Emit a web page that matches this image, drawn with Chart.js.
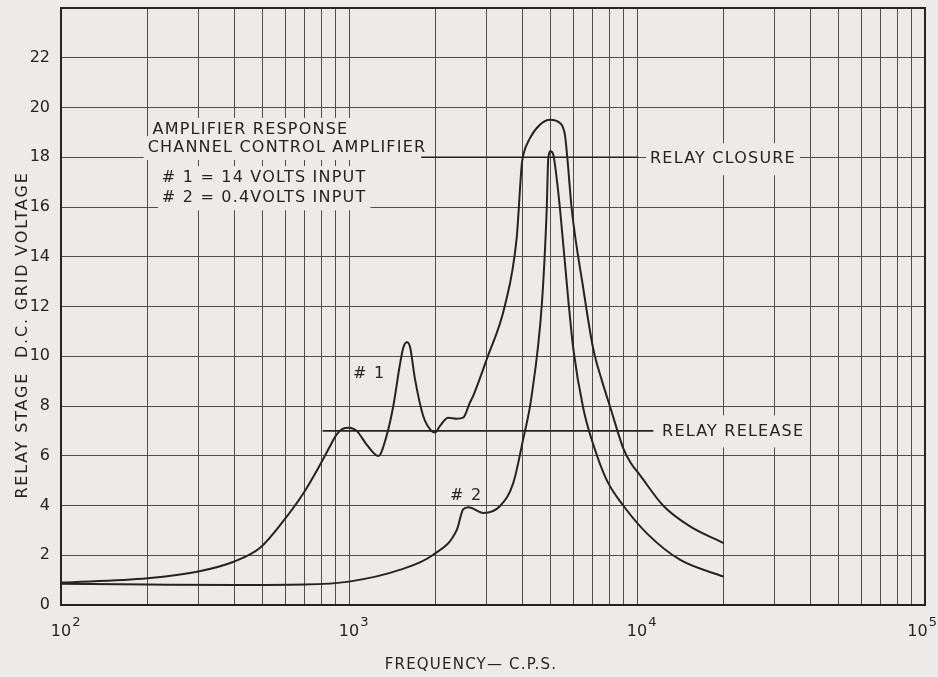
<!DOCTYPE html>
<html>
<head>
<meta charset="utf-8">
<script src="https://cdn.jsdelivr.net/npm/chart.js@4.4.1/dist/chart.umd.min.js"></script>
<style>
  html, body { margin: 0; padding: 0; background: #ecebe9; }
  #wrap { width: 938px; height: 677px; }
</style>
</head>
<body>
<div id="wrap"><canvas id="chart"></canvas></div>
<script>
/* values: frequency (c.p.s.) -> d.c. grid voltage */
const curve1Freq = [100, 200, 300, 400, 490, 590, 690, 790, 860, 905, 950, 1000, 1065, 1150, 1265, 1350, 1425, 1500, 1545, 1590, 1630, 1695, 1810, 1935, 1990, 2070, 2210, 2370, 2490, 2630, 2720, 3010, 3480, 3820, 3980, 4030, 4250, 4600, 4990, 5400, 5620, 5730, 5930, 6510, 7050, 7540, 8060, 8960, 9530, 10240, 12340, 15280, 20000]
const curve1Volts = [0.9, 1.08, 1.35, 1.75, 2.29, 3.36, 4.44, 5.6, 6.39, 6.85, 7.08, 7.13, 6.99, 6.46, 5.99, 6.8, 8.0, 9.62, 10.36, 10.56, 10.36, 9.08, 7.6, 6.99, 6.93, 7.2, 7.53, 7.49, 7.53, 8.14, 8.5, 9.89, 12.05, 14.74, 17.7, 18.1, 18.77, 19.31, 19.51, 19.38, 18.9, 17.97, 15.95, 12.72, 10.29, 9.05, 7.98, 6.3, 5.7, 5.22, 3.99, 3.16, 2.49]

const curve2Freq = [100, 200, 400, 700, 1000, 1500, 1960, 2370, 2490, 2600, 2930, 3340, 3720, 4030, 4290, 4680, 4860, 4920, 5015, 5120, 5190, 5400, 5770, 6010, 6510, 7050, 7850, 8960, 10800, 14090, 20000]
const curve2Volts = [0.85, 0.82, 0.8, 0.82, 0.94, 1.41, 2.02, 3.03, 3.84, 3.93, 3.7, 3.97, 4.91, 6.7, 8.28, 12.2, 15.95, 17.97, 18.24, 18.1, 17.7, 15.95, 12.3, 10.3, 7.9, 6.45, 5.02, 4.0, 2.89, 1.82, 1.14]

// relay levels
const relayClosureFreq = [1780, 10100]
const relayClosureVolts = [18, 18]
const relayReleaseFreq = [810, 11400]
const relayReleaseVolts = [7, 7]

// axes
const xGridValues = [100, 200, 300, 400, 500, 600, 700, 800, 900,
  1000, 2000, 3000, 4000, 5000, 6000, 7000, 8000, 9000,
  10000, 20000, 30000, 40000, 50000, 60000, 70000, 80000, 90000, 100000]
const xLabelExponents = ['2', '3', '4', '5']

// notes on the chart (anchored in c.p.s. / volts)
const notes = [
  { text: 'AMPLIFIER RESPONSE', f: 208, v: 19.1, mask: 12 },
  { text: 'CHANNEL CONTROL AMPLIFIER', f: 200, v: 18.37, mask: 12 },
  { text: '# 1 = 14 VOLTS INPUT', f: 224, v: 17.16, mask: 12 },
  { text: '# 2 = 0.4VOLTS INPUT', f: 224, v: 16.35, mask: 12 },
  { text: 'RELAY CLOSURE', f: 11100, v: 17.92, mask: 16 },
  { text: 'RELAY RELEASE', f: 12220, v: 6.98, mask: 16 },
  { text: '# 1', f: 1033, v: 9.3, mask: 0 },
  { text: '# 2', f: 2244, v: 4.4, mask: 0 },
]

const paper = '#ecebe9'
const ink = '#242424'
const gridInk = '#4e4e4e'
const font = "'DejaVu Sans', sans-serif"

function pts(xs, ys) {
  return xs.map((x, i) => ({ x: x, y: ys[i] }))
}

const paperPlugin = {
  id: 'paper',
  beforeDraw(chart) {
    const ctx = chart.ctx
    ctx.save()
    ctx.fillStyle = paper
    ctx.fillRect(0, 0, chart.width, chart.height)
    ctx.restore()
  },
  beforeDatasetsDraw(chart) {
    // blank out the grid behind the lettering
    const ctx = chart.ctx
    const xs = chart.scales.x, ys = chart.scales.y
    ctx.save()
    ctx.font = '16px ' + font
    ctx.letterSpacing = '1.2px'
    ctx.fillStyle = paper
    notes.forEach(n => {
      if (!n.mask) return
      const x = xs.getPixelForValue(n.f), y = ys.getPixelForValue(n.v)
      const w = ctx.measureText(n.text).width
      ctx.fillRect(x - 4, y - n.mask, w + 8, n.mask * 2)
    })
    ctx.restore()
  },
  afterDatasetsDraw(chart) {
    const ctx = chart.ctx
    const xs = chart.scales.x, ys = chart.scales.y
    ctx.save()
    ctx.font = '16px ' + font
    ctx.letterSpacing = '1.2px'
    ctx.fillStyle = ink
    ctx.textAlign = 'left'
    ctx.textBaseline = 'middle'
    notes.forEach(n => {
      ctx.fillText(n.text, xs.getPixelForValue(n.f), ys.getPixelForValue(n.v))
    })
    ctx.restore()
  },
  afterDraw(chart) {
    const ctx = chart.ctx
    const a = chart.chartArea
    const xs = chart.scales.x
    ctx.save()
    // frame
    ctx.strokeStyle = ink
    ctx.lineWidth = 2
    ctx.strokeRect(a.left, a.top, a.right - a.left, a.bottom - a.top)

    // decade labels 10^n
    ctx.fillStyle = ink
    ctx.textBaseline = 'middle'
    ctx.textAlign = 'left'
    xLabelExponents.forEach(e => {
      const px = xs.getPixelForValue(Math.pow(10, Number(e)))
      ctx.font = '16px ' + font
      const bw = ctx.measureText('10').width
      ctx.font = '13px ' + font
      const ew = ctx.measureText(e).width
      let left = px - bw / 2
      if (left + bw + 1 + ew > chart.width - 1) left = chart.width - 1 - ew - 1 - bw
      ctx.font = '16px ' + font
      ctx.fillText('10', left, a.bottom + 27)
      ctx.font = '13px ' + font
      ctx.fillText(e, left + bw + 1, a.bottom + 18)
    })

    // axis titles
    ctx.font = '15px ' + font
    ctx.letterSpacing = '1.2px'
    ctx.textAlign = 'center'
    ctx.fillText('FREQUENCY\u2014 C.P.S.', 471, a.bottom + 60)

    ctx.translate(23, 335)
    ctx.rotate(-Math.PI / 2)
    ctx.font = '16px ' + font
    ctx.letterSpacing = '1.8px'
    ctx.fillText('RELAY STAGE  D.C. GRID VOLTAGE', 0, 0)
    ctx.restore()
  }
}

const lineStyle = {
  borderColor: ink,
  borderWidth: 2,
  pointRadius: 0,
  fill: false,
}

new Chart(document.getElementById('chart'), {
  type: 'line',
  data: {
    datasets: [
      { ...lineStyle, label: '#1 = 14 volts input', data: pts(curve1Freq, curve1Volts), cubicInterpolationMode: 'monotone' },
      { ...lineStyle, label: '#2 = 0.4 volts input', data: pts(curve2Freq, curve2Volts), cubicInterpolationMode: 'monotone' },
      { ...lineStyle, label: 'Relay closure', data: pts(relayClosureFreq, relayClosureVolts), borderWidth: 1.6, tension: 0 },
      { ...lineStyle, label: 'Relay release', data: pts(relayReleaseFreq, relayReleaseVolts), borderWidth: 1.6, tension: 0 },
    ],
  },
  options: {
    responsive: true,
    maintainAspectRatio: false,
    animation: false,
    devicePixelRatio: 1,
    layout: { padding: { top: 8, right: 13, left: 0, bottom: 0 } },
    plugins: {
      legend: { display: false },
      tooltip: { enabled: false },
    },
    scales: {
      x: {
        type: 'logarithmic',
        min: 100,
        max: 100000,
        afterBuildTicks: (scale) => {
          scale.ticks = xGridValues.map(v => ({ value: v }))
        },
        afterFit: (scale) => { scale.height = 72 },
        ticks: { callback: () => '', autoSkip: false, maxRotation: 0 },
        grid: { color: gridInk, lineWidth: 1, drawTicks: false },
        border: { display: false },
      },
      y: {
        min: 0,
        max: 24,
        afterFit: (scale) => {
          scale.width = 61
          scale.paddingTop = 0
          scale.paddingBottom = 0
        },
        ticks: {
          stepSize: 2,
          padding: 11,
          color: ink,
          font: { family: font, size: 16, lineHeight: 1 },
          callback: (v) => (v === 24 ? '' : v),
        },
        grid: { color: gridInk, lineWidth: 1, drawTicks: false },
        border: { display: false },
      },
    },
  },
  plugins: [paperPlugin],
})
</script>
</body>
</html>
